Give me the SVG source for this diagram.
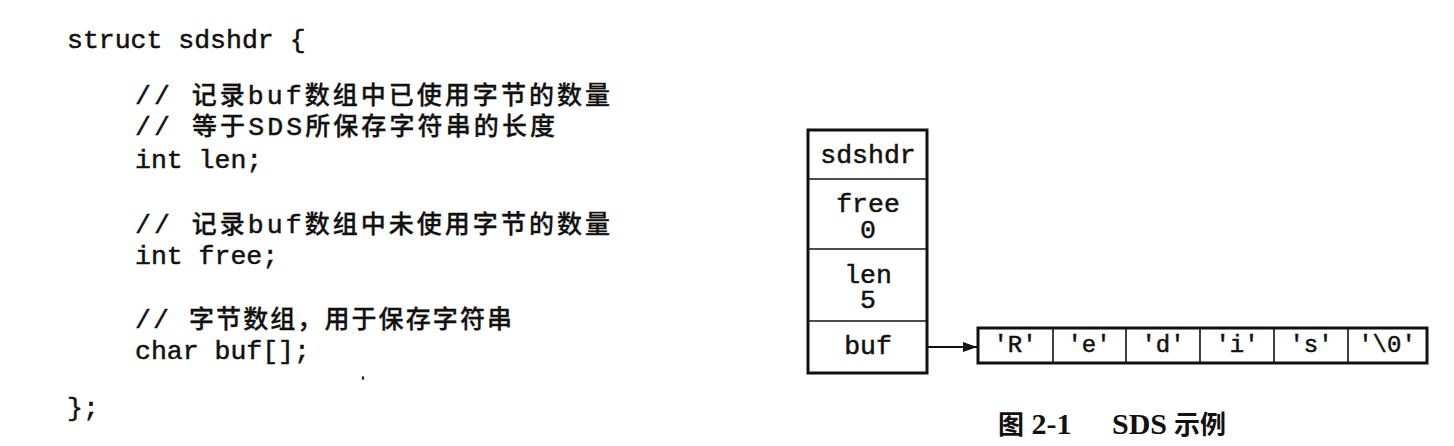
<svg xmlns="http://www.w3.org/2000/svg" width="1454" height="446" viewBox="0 0 1454 446">
<style>
.code{font-family:"Liberation Mono","Noto Sans CJK SC",monospace;font-size:26.5px;fill:#111;stroke:#111;stroke-width:0.5}
.cjk{font-family:"Noto Sans CJK SC",sans-serif;font-size:25px;font-weight:500;stroke-width:0.3}
.lbl{font-family:"Liberation Mono",monospace;font-size:26.5px;fill:#111;stroke:#111;stroke-width:0.5;text-anchor:middle}
.ch{font-family:"Liberation Mono",monospace;font-size:24px;fill:#111;stroke:#111;stroke-width:0.5;text-anchor:middle}
.outer{fill:#fff;stroke:#111;stroke-width:3}
.div{stroke:#111;stroke-width:1.6;fill:none}
.cap{font-family:"Liberation Serif","Noto Sans CJK SC",serif;font-size:30px;font-weight:bold;fill:#111}
.capc{font-family:"Noto Sans CJK SC",sans-serif;font-size:26px;font-weight:bold}
</style>
<defs>
<marker id="arr" viewBox="0 0 14 10" refX="14" refY="5" markerWidth="14" markerHeight="10" markerUnits="userSpaceOnUse" orient="auto">
<path d="M0,0 L14,5 L0,10 z" fill="#111"/>
</marker>
</defs>
<rect width="1454" height="446" fill="#fff"/>
<g id="code">
<text class="code" x="67" y="48">struct sdshdr {</text>
<text class="code" x="135" y="104" textLength="475" lengthAdjust="spacing">// <tspan class="cjk">记录</tspan>buf<tspan class="cjk">数组中已使用字节的数量</tspan></text>
<text class="code" x="135" y="135" textLength="420" lengthAdjust="spacing">// <tspan class="cjk">等于</tspan>SDS<tspan class="cjk">所保存字符串的长度</tspan></text>
<text class="code" x="135" y="168">int len;</text>
<text class="code" x="135" y="233" textLength="475" lengthAdjust="spacing">// <tspan class="cjk">记录</tspan>buf<tspan class="cjk">数组中未使用字节的数量</tspan></text>
<text class="code" x="135" y="264">int free;</text>
<text class="code" x="135" y="328" textLength="377" lengthAdjust="spacing">// <tspan class="cjk">字节数组，用于保存字符串</tspan></text>
<text class="code" x="135" y="359">char buf[];</text>
<text class="code" x="67" y="416">};</text>
<ellipse cx="363" cy="378" rx="1.3" ry="2" fill="#333"/>
</g>
<g id="sdshdr">
<rect class="outer" x="808" y="130" width="119" height="243"/>
<line class="div" x1="808" y1="179" x2="927" y2="179"/>
<line class="div" x1="808" y1="249" x2="927" y2="249"/>
<line class="div" x1="808" y1="321" x2="927" y2="321"/>
<text class="lbl" x="868" y="163">sdshdr</text>
<text class="lbl" x="868" y="212">free</text>
<text class="lbl" x="868" y="238">0</text>
<text class="lbl" x="868" y="283">len</text>
<text class="lbl" x="868" y="308">5</text>
<text class="lbl" x="868" y="354">buf</text>
</g>
<g id="buf-array">
<rect class="outer" x="978" y="328" width="449" height="35"/>
<line class="div" x1="1053" y1="328" x2="1053" y2="363"/>
<line class="div" x1="1126" y1="328" x2="1126" y2="363"/>
<line class="div" x1="1200" y1="328" x2="1200" y2="363"/>
<line class="div" x1="1274" y1="328" x2="1274" y2="363"/>
<line class="div" x1="1348" y1="328" x2="1348" y2="363"/>
<text class="ch" x="1015" y="352">'R'</text>
<text class="ch" x="1089" y="352">'e'</text>
<text class="ch" x="1163" y="352">'d'</text>
<text class="ch" x="1237" y="352">'i'</text>
<text class="ch" x="1311" y="352">'s'</text>
<text class="ch" x="1387" y="352">'\0'</text>
</g>
<g id="connectors">
<line x1="927" y1="347" x2="977" y2="347" stroke="#111" stroke-width="1.8" marker-end="url(#arr)"/>
</g>
<g id="caption">
<text class="cap" x="998" y="434"><tspan class="capc">图</tspan> 2-1<tspan x="1112">SDS</tspan><tspan class="capc" x="1174">示例</tspan></text>
</g>
</svg>
